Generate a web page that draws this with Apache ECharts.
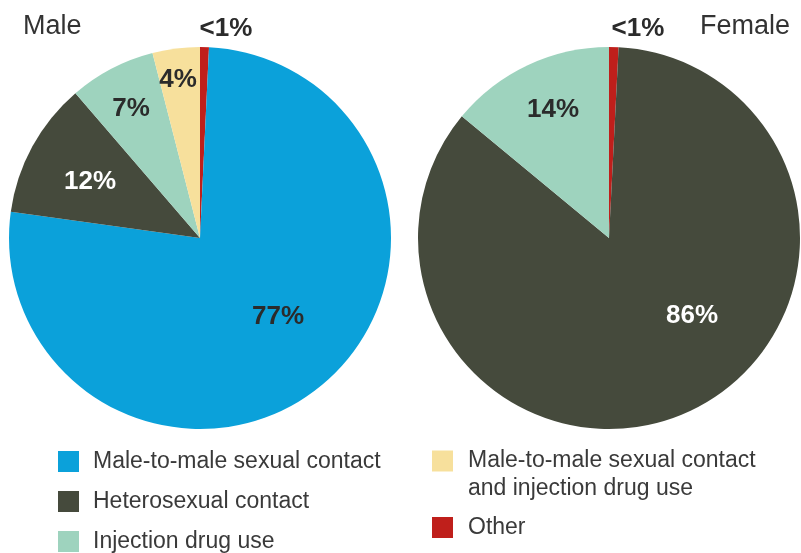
<!DOCTYPE html>
<html>
<head>
<meta charset="utf-8">
<style>
  html, body { margin: 0; padding: 0; background: #ffffff; }
  #chart { width: 801px; height: 553px; }
</style>
<script src="https://cdn.jsdelivr.net/npm/echarts@6/dist/echarts.min.js"></script>
</head>
<body>
<div id="chart"></div>
<script>
// ---- data ----
const categories = [
  'Male-to-male sexual contact',
  'Heterosexual contact',
  'Injection drug use',
  'Male-to-male sexual contact and injection drug use',
  'Other'
];
// clockwise from 12 o'clock
const maleNames = ['Other', 'Male-to-male sexual contact', 'Heterosexual contact', 'Injection drug use', 'Male-to-male sexual contact and injection drug use'];
const maleValues = [0.75, 76.4, 11.5, 7.3, 4.0];
const maleLabels = ['<1%', '77%', '12%', '7%', '4%'];

const femaleNames = ['Other', 'Heterosexual contact', 'Injection drug use'];
const femaleValues = [0.8, 85.2, 14.0];
const femaleLabels = ['<1%', '86%', '14%'];

const panelTitles = ['Male', 'Female'];

// ---- styles ----
const colors = {
  'Male-to-male sexual contact': '#0ba1da',
  'Heterosexual contact': '#454a3c',
  'Injection drug use': '#9ed3be',
  'Male-to-male sexual contact and injection drug use': '#f7e09c',
  'Other': '#bf1f1b'
};
const labelColors = {
  'Heterosexual contact': '#ffffff'
};
const darkText = '#2b2b2b';
const centers = [[200, 238], [609, 238]];
const radius = 191;
// label placement offsets from pie centre (style only)
const labelOffsets = [
  [[26, -209], [78, 79], [-110, -56], [-69, -129], [-22, -158]],
  [[29, -209], [83, 78], [-56, -128]]
];
const legendText = {
  'Male-to-male sexual contact and injection drug use': '\nMale-to-male sexual contact\nand injection drug use'
};

function buildData(names, values, labels) {
  return names.map(function (n, i) {
    return {
      name: n,
      value: values[i],
      itemStyle: { color: colors[n] },
      label: { color: labelColors[n] || darkText, formatter: labels[i] }
    };
  });
}

const chart = echarts.init(document.getElementById('chart'), null, { renderer: 'canvas' });

function pieSeries(idx, names, values, labels) {
  return {
    type: 'pie',
    center: centers[idx],
    radius: radius,
    startAngle: 90,
    clockwise: true,
    avoidLabelOverlap: false,
    silent: true,
    animation: false,
    itemStyle: { borderWidth: 0 },
    label: {
      show: true,
      position: 'inside',
      fontFamily: 'Liberation Sans, Arial, sans-serif',
      fontWeight: 'bold',
      fontSize: 26
    },
    labelLine: { show: false },
    labelLayout: function (p) {
      const off = labelOffsets[idx][p.dataIndex];
      return { x: centers[idx][0] + off[0], y: centers[idx][1] + off[1] };
    },
    emphasis: { disabled: true },
    data: buildData(names, values, labels)
  };
}

const legendBase = {
  orient: 'vertical',
  icon: 'rect',
  itemWidth: 21,
  itemHeight: 21,
  selectedMode: false,
  padding: 0,
  height: 130,
  textStyle: {
    fontFamily: 'Liberation Sans, Arial, sans-serif',
    fontSize: 23,
    lineHeight: 21,
    color: '#3a3a3a',
    padding: [0, 0, 0, 9]
  },
  formatter: function (name) { return legendText[name] || name; }
};

const option = {
  backgroundColor: '#ffffff',
  animation: false,
  title: [
    {
      text: panelTitles[0], left: 23, top: 13, padding: 0,
      textStyle: { fontFamily: 'Liberation Sans, Arial, sans-serif', fontSize: 27, fontWeight: 'normal', color: '#333333' }
    },
    {
      text: panelTitles[1], right: 11, top: 13, padding: 0,
      textStyle: { fontFamily: 'Liberation Sans, Arial, sans-serif', fontSize: 27, fontWeight: 'normal', color: '#333333' }
    }
  ],
  legend: [
    Object.assign({}, legendBase, {
      left: 58, top: 450, itemGap: 17,
      data: [categories[0], categories[1], categories[2]]
    }),
    Object.assign({}, legendBase, {
      left: 432, top: 419,
      textStyle: Object.assign({}, legendBase.textStyle, { lineHeight: 28, padding: [0, 0, 0, 10] }),
      data: [categories[3]]
    }),
    Object.assign({}, legendBase, {
      left: 432, top: 516,
      textStyle: Object.assign({}, legendBase.textStyle, { padding: [0, 0, 0, 10] }),
      data: [categories[4]]
    })
  ],
  series: [
    pieSeries(0, maleNames, maleValues, maleLabels),
    pieSeries(1, femaleNames, femaleValues, femaleLabels)
  ]
};

chart.setOption(option);
</script>
</body>
</html>
